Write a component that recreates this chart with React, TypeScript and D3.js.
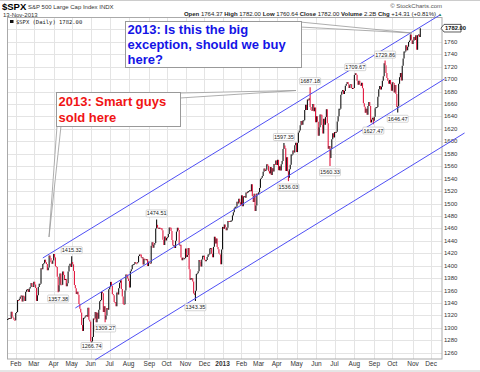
import React from 'react';
import * as d3 from 'd3';

// daily closes of $SPX, one array per month (chart starts 19-Jan-2012)
const jan12 = [1314.5, 1315.38, 1316.0, 1314.65, 1326.06, 1318.43, 1316.33, 1313.01, 1312.41];
const feb12 = [1324.09, 1325.54, 1344.9, 1344.33, 1347.05, 1349.96, 1351.95, 1342.64, 1351.77, 1350.5, 1343.23, 1358.04, 1361.23, 1362.21, 1357.66, 1363.46, 1365.74, 1372.18, 1367.59, 1365.68];
const mar12 = [1374.09, 1369.63, 1364.33, 1343.36, 1352.63, 1365.91, 1370.87, 1371.09, 1395.95, 1394.28, 1402.6, 1404.17, 1409.75, 1405.52, 1402.89, 1392.78, 1397.11, 1416.51, 1412.52, 1405.54, 1403.28, 1408.47];
const apr12 = [1419.04, 1413.38, 1398.96, 1398.08, 1382.2, 1358.59, 1368.71, 1387.57, 1370.26, 1369.57, 1390.78, 1385.14, 1376.92, 1378.53, 1366.94, 1371.97, 1390.69, 1399.98, 1403.36, 1397.91];
const may12 = [1405.82, 1402.31, 1391.57, 1369.1, 1363.72, 1354.58, 1357.99, 1353.39, 1338.35, 1330.66, 1324.8, 1304.86, 1295.22, 1315.99, 1316.63, 1318.86, 1320.68, 1317.82, 1332.42, 1313.32, 1310.33];
const jun12 = [1278.04, 1278.18, 1285.5, 1315.13, 1314.99, 1325.66, 1308.93, 1324.18, 1314.88, 1329.1, 1342.84, 1344.78, 1357.98, 1355.69, 1325.51, 1335.02, 1313.72, 1319.99, 1331.85, 1329.04, 1362.16];
const jul12 = [1365.51, 1374.02, 1367.58, 1354.68, 1352.46, 1341.47, 1341.45, 1334.76, 1356.78, 1353.64, 1363.67, 1372.78, 1376.51, 1362.66, 1350.52, 1338.31, 1337.89, 1360.02, 1385.97, 1385.3, 1379.32];
const aug12 = [1375.32, 1365.0, 1390.99, 1394.23, 1401.35, 1402.22, 1402.8, 1405.87, 1404.11, 1403.93, 1405.53, 1415.51, 1418.16, 1418.13, 1413.17, 1413.49, 1402.08, 1411.13, 1410.44, 1409.3, 1410.49, 1399.48, 1406.58];
const sep12 = [1404.94, 1403.44, 1432.12, 1437.92, 1429.08, 1433.56, 1436.56, 1459.99, 1465.77, 1461.19, 1459.32, 1461.05, 1460.26, 1460.15, 1456.89, 1441.59, 1433.32, 1447.15, 1440.67];
const oct12 = [1444.49, 1445.75, 1450.99, 1461.4, 1460.93, 1455.88, 1441.48, 1432.56, 1432.84, 1428.59, 1440.13, 1454.92, 1460.91, 1457.34, 1433.19, 1433.82, 1413.11, 1408.75, 1412.97, 1411.94, 1412.16];
const nov12 = [1427.59, 1414.2, 1417.26, 1428.39, 1394.53, 1377.51, 1379.85, 1380.03, 1374.53, 1355.49, 1353.33, 1359.88, 1386.89, 1387.81, 1391.03, 1409.15, 1406.29, 1398.94, 1409.93, 1415.95, 1416.18];
const dec12 = [1409.46, 1407.05, 1409.28, 1413.94, 1418.07, 1418.55, 1427.84, 1428.48, 1419.45, 1413.58, 1430.36, 1446.79, 1435.81, 1443.69, 1430.15, 1426.66, 1419.83, 1418.1, 1402.43, 1426.19];
const jan13 = [1462.42, 1459.37, 1466.47, 1461.89, 1457.15, 1461.02, 1472.12, 1472.05, 1470.68, 1472.34, 1472.63, 1480.94, 1485.98, 1492.56, 1494.81, 1494.82, 1502.96, 1500.18, 1507.84, 1501.96, 1498.11];
const feb13 = [1513.17, 1495.71, 1511.29, 1512.12, 1509.39, 1517.93, 1517.01, 1519.43, 1520.33, 1521.38, 1519.79, 1530.94, 1511.95, 1502.42, 1515.6, 1487.85, 1496.94, 1515.99, 1514.68];
const mar13 = [1518.2, 1525.2, 1539.79, 1541.46, 1544.26, 1551.18, 1556.22, 1552.48, 1554.52, 1563.23, 1560.7, 1552.1, 1548.34, 1558.71, 1545.8, 1556.89, 1551.69, 1563.77, 1562.85, 1569.19];
const apr13 = [1562.17, 1570.25, 1553.69, 1559.98, 1553.28, 1563.07, 1568.61, 1587.73, 1593.37, 1588.85, 1552.36, 1574.57, 1552.01, 1541.61, 1555.25, 1562.5, 1578.78, 1578.79, 1585.16, 1582.24, 1593.61, 1597.57];
const may13 = [1582.7, 1597.59, 1614.42, 1617.5, 1625.96, 1632.69, 1626.67, 1633.7, 1633.77, 1650.34, 1658.78, 1650.47, 1667.47, 1666.29, 1669.16, 1655.35, 1650.51, 1649.6, 1660.06, 1648.36, 1654.41, 1630.74];
const jun13 = [1640.42, 1631.38, 1608.9, 1622.56, 1643.38, 1642.81, 1626.13, 1612.52, 1636.36, 1626.73, 1639.04, 1651.81, 1628.93, 1588.19, 1592.43, 1573.09, 1588.03, 1603.26, 1613.2, 1606.28];
const jul13 = [1614.96, 1614.08, 1615.41, 1631.89, 1640.46, 1652.32, 1652.62, 1675.02, 1680.19, 1682.5, 1676.26, 1680.91, 1689.37, 1692.09, 1695.53, 1692.39, 1685.94, 1690.25, 1691.65, 1685.33, 1685.96, 1685.73];
const aug13 = [1706.87, 1709.67, 1707.14, 1697.37, 1690.91, 1697.48, 1691.42, 1689.47, 1694.16, 1685.39, 1661.32, 1655.83, 1646.06, 1652.35, 1642.8, 1656.96, 1663.5, 1656.78, 1630.48, 1634.96, 1638.17, 1632.97];
const sep13 = [1639.77, 1653.08, 1655.08, 1655.17, 1671.71, 1683.99, 1689.13, 1683.42, 1687.99, 1697.6, 1704.76, 1725.52, 1722.34, 1709.91, 1701.84, 1697.42, 1692.77, 1698.67, 1691.75, 1681.55];
const oct13 = [1695.0, 1693.87, 1678.66, 1690.5, 1676.12, 1655.45, 1656.4, 1692.56, 1703.2, 1710.14, 1698.06, 1721.54, 1733.15, 1744.5, 1744.66, 1754.67, 1746.38, 1752.07, 1759.77, 1762.11, 1771.95, 1763.31, 1756.54];
const nov13 = [1761.64, 1767.93, 1762.97, 1770.49, 1747.15, 1770.61, 1771.89, 1767.69, 1782.0];

const months = [jan12, feb12, mar12, apr12, may12, jun12, jul12, aug12, sep12, oct12, nov12, dec12,
  jan13, feb13, mar13, apr13, may13, jun13, jul13, aug13, sep13, oct13, nov13];
// month labels under the axis; last one (Dec 2013) is past the data
const monthLabels = ['', 'Feb', 'Mar', 'Apr', 'May', 'Jun', 'Jul', 'Aug', 'Sep', 'Oct', 'Nov', 'Dec',
  '2013', 'Feb', 'Mar', 'Apr', 'May', 'Jun', 'Jul', 'Aug', 'Sep', 'Oct', 'Nov', 'Dec'];
const novTradingDays = 20;

const yTicks = d3.range(1260, 1781, 20);
const lastPrice = 1782.0;

// marked highs / lows (bar number, value)
const markBars = [71, 56, 93, 108, 165, 208, 306, 311, 335, 357, 385, 405, 418, 432];
const markValues = [1415.32, 1357.38, 1266.74, 1309.27, 1474.51, 1343.35, 1597.35, 1536.03, 1687.18, 1560.33, 1709.67, 1627.47, 1729.86, 1646.47];
const markKinds = ['hi', 'lo', 'lo', 'lo', 'hi', 'lo', 'hi', 'lo', 'hi', 'lo', 'hi', 'lo', 'hi', 'lo'];

// trend channel: start/end (bar number, price)
const channelFrom = [[39, 1412.5], [75, 1332], [97, 1248.5]];
const channelTo = [[479, 1803.5], [484, 1700.5], [506, 1613.5]];

const closes = months.flat();
const lastBar = closes.length - 1;

const x = d3.scaleLinear().domain([0, lastBar]).range([7.6, 420.3]);
const y = d3.scaleLinear().domain([1250, 1800]).range([359, 17]);

const L = 7.5, R = 442, T = 17.5, B = 359;
const font = 'Liberation Sans, Arial, sans-serif';
const RED = '#e3173e';

const monthStarts: number[] = [];
let acc = 0;
months.forEach(m => { monthStarts.push(acc); acc += m.length; });
monthStarts.push(monthStarts[monthStarts.length - 1] + novTradingDays);

export default function App() {
  const marks = new Map<number, number>();
  markBars.forEach((b, i) => marks.set(b, markValues[i]));

  const bars = closes.map((c, i) => {
    const prev = i > 0 ? closes[i - 1] : c;
    let hi = Math.max(prev, c), lo = Math.min(prev, c);
    if (marks.has(i)) { hi = Math.max(hi, marks.get(i)!); lo = Math.min(lo, marks.get(i)!); }
    let y1 = y(hi), y2 = y(lo);
    if (y2 - y1 < 1) y2 = y1 + 1;
    return { x: x(i), y1, y2, color: c >= prev ? '#111' : RED };
  });

  const ty = y(lastPrice);

  return (
    <div style={{ position: 'absolute', left: 0, top: 0 }}>
      <svg width={480} height={372} style={{ display: 'block', background: '#fff' }}>
        <line x1={0} x2={480} y1={0.5} y2={0.5} stroke="#ccc" />
        {/* header */}
        <text x={2} y={10} fontFamily={font} fontSize={9.5} fontWeight="bold">$SPX</text>
        <text x={28} y={9} fontFamily={font} fontSize={6} fill="#333">S&amp;P 500 Large Cap Index  INDX</text>
        <text x={3} y={16.5} fontFamily={font} fontSize={6} fill="#333">13-Nov-2013</text>
        <text x={442} y={8} textAnchor="end" fontFamily={font} fontSize={6} fill="#555">© StockCharts.com</text>
        <text x={436} y={16} textAnchor="end" fontFamily={font} fontSize={6} fill="#222">
          <tspan fontWeight="bold">Open</tspan> 1764.37 <tspan fontWeight="bold">High</tspan> 1782.00{' '}
          <tspan fontWeight="bold">Low</tspan> 1760.64 <tspan fontWeight="bold">Close</tspan> 1782.00{' '}
          <tspan fontWeight="bold">Volume</tspan> 2.2B <tspan fontWeight="bold">Chg</tspan> +14.31 (+0.81%)
        </text>
        <text x={440} y={15.5} textAnchor="middle" fontFamily={font} fontSize={4.5} fill="#2a8a2a">▲</text>

        {/* grid */}
        {yTicks.map(t => (
          <line key={'h' + t} x1={L} x2={R} y1={Math.round(y(t)) + 0.5} y2={Math.round(y(t)) + 0.5} stroke="#e4e4e4" />
        ))}
        {monthStarts.slice(1).map((s, i) => (
          <line key={'v' + i} x1={Math.round(x(s)) + 0.5} x2={Math.round(x(s)) + 0.5} y1={T} y2={B} stroke="#e4e4e4" />
        ))}
        <rect x={L} y={T} width={R - L} height={B - T} fill="none" stroke="#aaa" />

        {/* axis labels (the one under the price tag is hidden) */}
        {yTicks.filter(t => Math.abs(y(t) - ty) > 6).map(t => (
          <text key={'yt' + t} x={444} y={y(t) + 2} fontFamily={font} fontSize={6} fill="#333">{t}</text>
        ))}
        {monthStarts.map((s, i) => monthLabels[i] ? (
          <text key={'m' + i} x={x(s)} y={366} textAnchor="middle" fontFamily={font} fontSize={6.5}
            fontWeight={monthLabels[i] === '2013' ? 'bold' : 'normal'} fill="#333">{monthLabels[i]}</text>
        ) : null)}

        {/* legend */}
        <rect x={10} y={20} width={3.5} height={3} fill="#111" />
        <text x={16} y={23.5} fontFamily="DejaVu Sans Mono, monospace" fontSize={5.5} fill="#222">$SPX (Daily) 1782.00</text>

        {/* price bars */}
        {bars.map((b, i) => (
          <line key={'b' + i} x1={b.x} x2={b.x} y1={b.y1} y2={b.y2} stroke={b.color} strokeWidth={1.1} />
        ))}

        {/* trend channel */}
        {channelFrom.map((p, i) => (
          <line key={'c' + i} x1={x(p[0])} y1={y(p[1])} x2={x(channelTo[i][0])} y2={y(channelTo[i][1])}
            stroke="#4f4ff5" strokeWidth={1} />
        ))}

        {/* high/low marks */}
        {markBars.map((b, i) => {
          const cy = markKinds[i] === 'hi' ? y(markValues[i]) - 6 : Math.min(y(markValues[i]) + 6.3, B - 13);
          return (
            <g key={'mk' + i}>
              <rect x={x(b) - 10.5} y={cy - 3.5} width={21} height={7} fill="#fff" stroke="#bbb" strokeWidth={0.6} rx={1} />
              <text x={x(b)} y={cy + 2} textAnchor="middle" fontFamily={font} fontSize={5.5} fill="#222">{markValues[i].toFixed(2)}</text>
            </g>
          );
        })}

        {/* last price tag */}
        <path d={`M${R - 1},${ty} L${R + 2},${ty - 3.8} H${R + 19} V${ty + 3.8} H${R + 2} Z`} fill="#fff" stroke="#333" strokeWidth={0.8} />
        <text x={R + 3} y={ty + 2} fontFamily={font} fontSize={5.8} fontWeight="bold" fill="#111">1782.00</text>

        {/* annotations */}
        <polygon points="300,22 412,33 300,27" fill="#fff" stroke="#999" strokeWidth={0.8} />
        <rect x={125.5} y={21.5} width={176} height={46} fill="#fff" stroke="#999" />
        <text fontFamily={font} fontSize={13} fontWeight="bold" fill="#1414e6">
          <tspan x={127.5} y={33.5}>2013: Is this the big</tspan>
          <tspan x={127.5} y={48.5}>exception, should we buy</tspan>
          <tspan x={127.5} y={63.5}>here?</tspan>
        </text>

        <polygon points="57,126 49,237 61,126" fill="#fff" stroke="#999" strokeWidth={0.8} />
        <polygon points="180,93 296,90.5 180,98" fill="#fff" stroke="#999" strokeWidth={0.8} />
        <rect x={56.5} y={92.5} width={124} height={34} fill="#fff" stroke="#999" />
        <text fontFamily={font} fontSize={13} fontWeight="bold" fill="#f01414">
          <tspan x={58.5} y={106}>2013: Smart guys</tspan>
          <tspan x={58.5} y={121.5}>sold here</tspan>
        </text>
        <line x1={0} x2={480} y1={371} y2={371} stroke="#ccc" />
      </svg>
    </div>
  );
}
